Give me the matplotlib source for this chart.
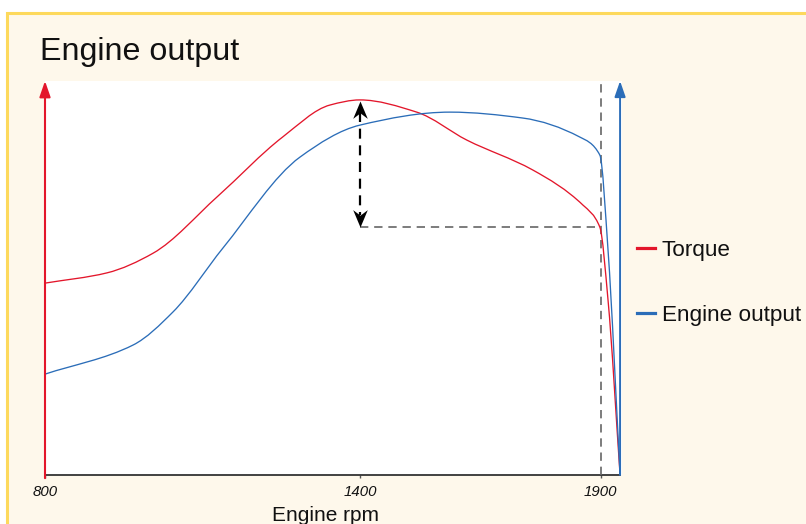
import numpy as np
import matplotlib
matplotlib.use("Agg")
import matplotlib.pyplot as plt
from matplotlib.lines import Line2D
from matplotlib.patches import Rectangle, PathPatch
from matplotlib.path import Path

plt.rcParams['font.family'] = ['Liberation Sans', 'DejaVu Sans']

# ---- data ----
title = "Engine output"
x_label = "Engine rpm"
tick_values = [800, 1400, 1900]
tick_labels = ["800", "1400", "1900"]
series_names = ["Torque", "Engine output"]

torque_rpm = [800, 918, 1006, 1128, 1253, 1343, 1400, 1518, 1622, 1759, 1863, 1898, 1915, 1940]
torque_val = [48.7, 51.3, 56.3, 70.6, 85.8, 93.9, 95.2, 92.1, 85.0, 77.4, 68.5, 62.9, 44.4, 0.0]

output_rpm = [800, 968, 1044, 1139, 1286, 1400, 1587, 1738, 1856, 1898, 1915, 1940]
output_val = [25.6, 33.0, 41.4, 57.6, 80.7, 88.8, 92.1, 90.6, 85.8, 81.2, 57.1, 0.0]

peak_rpm = 1400
peak_val = 95.2
ref_rpm = 1900
ref_val = 62.9
axis_end_rpm = 1940

RED = "#E3162B"
BLUE = "#2B6DB8"

W, H = 806, 524
fig = plt.figure(figsize=(W / 100, H / 100), dpi=100, facecolor="white")

def fx(px):
    return px / W

def fy(py):
    return 1 - py / H

# background frame
fig.patches.append(Rectangle((fx(7.5), fy(540)), fx(830) - fx(7.5), fy(12.5) - fy(540),
                             transform=fig.transFigure, facecolor="#FEF8EB",
                             edgecolor="#FDD95C", lw=2.2, zorder=-10))

ax = fig.add_axes([fx(45), fy(475), fx(622) - fx(45), (475 - 81) / H])
ax.set_zorder(1)
ax.set_facecolor("white")

# piecewise-linear rpm scale (matches the diagram's axis spacing)
_xp = [800, 1400, 1900, 2100]
_fp = [0, 315, 556, 652.4]

def fwd(x):
    return np.interp(x, _xp, _fp)

def inv(y):
    return np.interp(y, _fp, _xp)

ax.set_xscale("function", functions=(fwd, inv))
ax.set_xlim(800, 1944)
ax.set_ylim(0, 100)

for s in ["left", "right", "top"]:
    ax.spines[s].set_visible(False)
ax.spines["bottom"].set_color("#333333")
ax.spines["bottom"].set_linewidth(1.3)
ax.spines["bottom"].set_bounds(800, axis_end_rpm)
ax.set_yticks([])
ax.set_xticks(tick_values)
ax.set_xticklabels(tick_labels, fontsize=10.8, style="italic", color="#111111")
ax.xaxis.set_minor_locator(plt.NullLocator())
ax.tick_params(axis="x", length=2.5, width=1, color="#555555", pad=5)

YS = 3.94  # vertical pixels per value unit, used only for tangent estimation


def smooth_path(xs, ys):
    """Bezier path through the data points with monotone (Fritsch-Carlson) tangents."""
    u = fwd(np.asarray(xs, float))
    v = np.asarray(ys, float) * YS
    h = np.diff(u)
    d = np.diff(v) / h
    n = len(u)
    m = np.zeros(n)
    m[0] = d[0]
    m[-1] = d[-1]
    for i in range(1, n - 1):
        if d[i - 1] * d[i] <= 0:
            m[i] = 0.0
        else:
            w1 = 2 * h[i] + h[i - 1]
            w2 = h[i] + 2 * h[i - 1]
            m[i] = (w1 + w2) / (w1 / d[i - 1] + w2 / d[i])
    verts = [(u[0], v[0])]
    codes = [Path.MOVETO]
    for i in range(n - 1):
        verts.append((u[i] + h[i] / 3, v[i] + m[i] * h[i] / 3))
        verts.append((u[i + 1] - h[i] / 3, v[i + 1] - m[i + 1] * h[i] / 3))
        verts.append((u[i + 1], v[i + 1]))
        codes += [Path.CURVE4] * 3
    verts = np.array(verts)
    verts[:, 0] = inv(verts[:, 0])
    verts[:, 1] = verts[:, 1] / YS
    return Path(verts, codes)


for xs, ys, col in [(torque_rpm, torque_val, RED), (output_rpm, output_val, BLUE)]:
    ax.add_patch(PathPatch(smooth_path(xs, ys), facecolor="none", edgecolor=col,
                           lw=0.95, zorder=4, clip_on=False))

# axis arrows
ax.annotate("", xy=(800, 100), xytext=(800, -0.8), xycoords="data",
            arrowprops=dict(arrowstyle="-|>,head_length=0.95,head_width=0.33",
                            color=RED, lw=1.5, shrinkA=0, shrinkB=0), annotation_clip=False, zorder=5)
ax.annotate("", xy=(axis_end_rpm, 100), xytext=(axis_end_rpm, 0), xycoords="data",
            arrowprops=dict(arrowstyle="-|>,head_length=0.95,head_width=0.33",
                            color=BLUE, lw=1.4, shrinkA=0, shrinkB=0), annotation_clip=False, zorder=5)

# dashed reference lines
dash = (0, (5, 3.5))
ax.plot([ref_rpm, ref_rpm], [0, 99.2], color="#666666", lw=1.2, ls=dash, zorder=3)
ax.plot([peak_rpm, ref_rpm], [ref_val, ref_val], color="#666666", lw=1.2, ls=dash, zorder=3)

# double arrow
ax.plot([peak_rpm, peak_rpm], [peak_val - 3, ref_val + 3], color="black", lw=1.6,
        ls=(0, (4.5, 3)), zorder=5)
up_head = Path([(0, 0), (-0.42, -1), (0, -0.68), (0.42, -1), (0, 0)],
               [Path.MOVETO, Path.LINETO, Path.LINETO, Path.LINETO, Path.CLOSEPOLY])
down_head = Path([(0, 0), (-0.42, 1), (0, 0.68), (0.42, 1), (0, 0)],
                 [Path.MOVETO, Path.LINETO, Path.LINETO, Path.LINETO, Path.CLOSEPOLY])
ax.plot([peak_rpm], [peak_val - 0.3], marker=up_head, ms=25, color="black", mew=0, zorder=6)
ax.plot([peak_rpm], [ref_val + 0.1], marker=down_head, ms=25, color="black", mew=0, zorder=6)

# title and axis label
fig.text(fx(40), fy(60), title, fontsize=23.2, ha="left", va="baseline", color="#111111")
fig.text(fx(326), fy(521), x_label, fontsize=15, ha="center", va="baseline", color="#111111")

# legend
for (name, col, py) in [(series_names[0], RED, 248), (series_names[1], BLUE, 313)]:
    fig.add_artist(Line2D([fx(637), fx(655)], [fy(py), fy(py)], color=col, lw=2.3,
                          transform=fig.transFigure))
    fig.text(fx(662), fy(py), name, fontsize=16.2, ha="left", va="center_baseline",
             color="#111111")

fig.savefig("out.png", dpi=100, facecolor="white")
